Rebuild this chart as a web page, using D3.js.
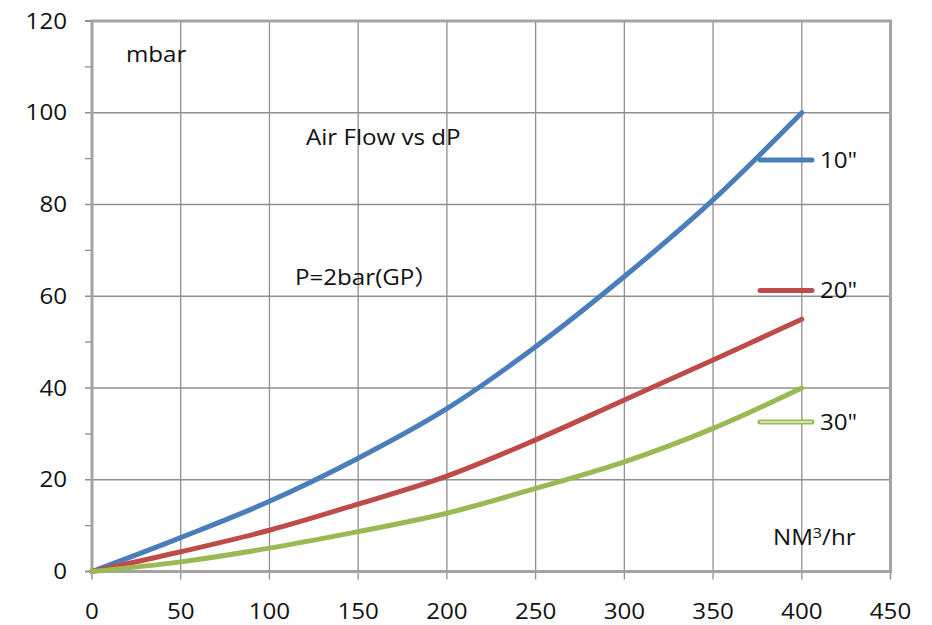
<!DOCTYPE html>
<html>
<head>
<meta charset="utf-8">
<script src="https://cdn.jsdelivr.net/npm/d3@7"></script>
<style>
  body { margin: 0; background: #fff; }
  text { font-family: "Open Sans", sans-serif; fill: #111; }
</style>
</head>
<body>
<svg id="chart" width="932" height="625"></svg>
<script>
// air flow (NM3/hr) vs pressure drop (mbar)
const flow = [0, 50, 100, 150, 200, 250, 300, 350, 400];
const dp10 = [0, 7.4, 15.3, 24.7, 35.5, 49, 64.3, 81, 100];
const dp20 = [0, 4.3, 9, 14.7, 20.8, 28.7, 37.4, 46.1, 55];
const dp30 = [0, 2.1, 5.1, 8.7, 12.7, 18.1, 23.9, 31.2, 40];
const seriesNames = ['10"', '20"', '30"'];
const seriesColors = ['#4a7ebb', '#be4b48', '#98b954'];
const xTicks = [0, 50, 100, 150, 200, 250, 300, 350, 400, 450];
const yTicks = [0, 20, 40, 60, 80, 100, 120];
const yMinorTicks = [10, 30, 50, 70, 90, 110];

const svg = d3.select('#chart');
const x = d3.scaleLinear().domain([0, 450]).range([92, 890.5]);
const y = d3.scaleLinear().domain([0, 120]).range([571.5, 21]);
const stretch = 1.15; // source picture is stretched sideways

// grid
svg.append('g')
  .selectAll('line')
  .data(xTicks.slice(1, -1))
  .enter()
  .append('line')
  .attr('x1', d => x(d)).attr('x2', d => x(d))
  .attr('y1', y(120)).attr('y2', y(0) + 8)
  .attr('stroke', '#8f8f8f')
  .attr('stroke-width', 1.3);

svg.append('g')
  .selectAll('line')
  .data(yTicks.slice(1, -1))
  .enter()
  .append('line')
  .attr('x1', x(0) - 7).attr('x2', x(450))
  .attr('y1', d => y(d)).attr('y2', d => y(d))
  .attr('stroke', '#8f8f8f')
  .attr('stroke-width', 1.3);

// y minor ticks
svg.append('g')
  .selectAll('line')
  .data(yMinorTicks)
  .enter()
  .append('line')
  .attr('x1', x(0) - 7).attr('x2', x(0))
  .attr('y1', d => y(d)).attr('y2', d => y(d))
  .attr('stroke', '#8f8f8f')
  .attr('stroke-width', 1.3);

// end ticks
svg.append('line')
  .attr('x1', x(0) - 7).attr('x2', x(0))
  .attr('y1', y(0)).attr('y2', y(0))
  .attr('stroke', '#929292').attr('stroke-width', 2);
svg.append('line')
  .attr('x1', x(0) - 7).attr('x2', x(0))
  .attr('y1', y(120)).attr('y2', y(120))
  .attr('stroke', '#929292').attr('stroke-width', 2);
svg.append('g')
  .selectAll('line')
  .data([0, 450])
  .enter()
  .append('line')
  .attr('x1', d => x(d)).attr('x2', d => x(d))
  .attr('y1', y(0)).attr('y2', y(0) + 8)
  .attr('stroke', '#929292').attr('stroke-width', 1.5);

// plot frame
svg.append('rect')
  .attr('x', x(0)).attr('y', y(120))
  .attr('width', x(450) - x(0)).attr('height', y(0) - y(120))
  .attr('fill', 'none')
  .attr('stroke', '#a3a3a3')
  .attr('stroke-width', 3);

// tick labels
svg.append('g')
  .selectAll('text')
  .data(yTicks)
  .enter()
  .append('text')
  .attr('transform', d => `translate(67, ${y(d) + 7.5}) scale(${stretch}, 1)`)
  .attr('text-anchor', 'end')
  .style('font-size', '21px')
  .text(d => d);

svg.append('g')
  .selectAll('text')
  .data(xTicks)
  .enter()
  .append('text')
  .attr('transform', d => `translate(${x(d)}, 619) scale(${stretch}, 1)`)
  .attr('text-anchor', 'middle')
  .style('font-size', '21px')
  .text(d => d);

// curves
const lineGen = d3.line()
  .x((d, i) => x(flow[i]))
  .y(d => y(d))
  .curve(d3.curveCatmullRom.alpha(0.5));

const series = [dp10, dp20, dp30];
svg.append('g')
  .selectAll('path')
  .data(series)
  .enter()
  .append('path')
  .attr('d', lineGen)
  .attr('fill', 'none')
  .attr('stroke', (d, i) => seriesColors[i])
  .attr('stroke-width', 5)
  .attr('stroke-linecap', 'round')
  .attr('stroke-linejoin', 'round');

// legend
const legendY = [160, 290.5, 422];
const legend = svg.append('g')
  .selectAll('g')
  .data(seriesNames)
  .enter()
  .append('g');

legend.append('line')
  .attr('x1', 760).attr('x2', 812)
  .attr('y1', (d, i) => legendY[i]).attr('y2', (d, i) => legendY[i])
  .attr('stroke', (d, i) => seriesColors[i])
  .attr('stroke-width', 5)
  .attr('stroke-linecap', 'round');

// the 30" entry is drawn as a double line
svg.append('line')
  .attr('x1', 760).attr('x2', 812)
  .attr('y1', legendY[2]).attr('y2', legendY[2])
  .attr('stroke', '#e9f1dc')
  .attr('stroke-width', 1.3);

legend.append('text')
  .attr('transform', (d, i) => `translate(820, ${legendY[i] + 7.5}) scale(${stretch}, 1)`)
  .style('font-size', '21px')
  .text(d => d);

// annotations
const notes = [
  { t: 'mbar', x: 126, y: 61.5 },
  { t: 'Air Flow vs dP', x: 306, y: 145 }
];
svg.append('g')
  .selectAll('text')
  .data(notes)
  .enter()
  .append('text')
  .attr('transform', d => `translate(${d.x}, ${d.y}) scale(${stretch}, 1)`)
  .style('font-size', '21px')
  .text(d => d.t);

const pNote = svg.append('text')
  .attr('transform', `translate(295, 285) scale(${stretch}, 1)`)
  .style('font-size', '21px');
pNote.append('tspan').text('P=2bar(GP');
pNote.append('tspan').style('font-family', '"Noto Sans CJK SC", sans-serif').text('\uFF09');

const unit = svg.append('text')
  .attr('transform', `translate(773, 545) scale(${stretch}, 1)`)
  .style('font-size', '21px');
unit.append('tspan').text('NM');
unit.append('tspan').attr('dy', -7).style('font-size', '14px').text('3');
unit.append('tspan').attr('dy', 7).text('/hr');
</script>
</body>
</html>
